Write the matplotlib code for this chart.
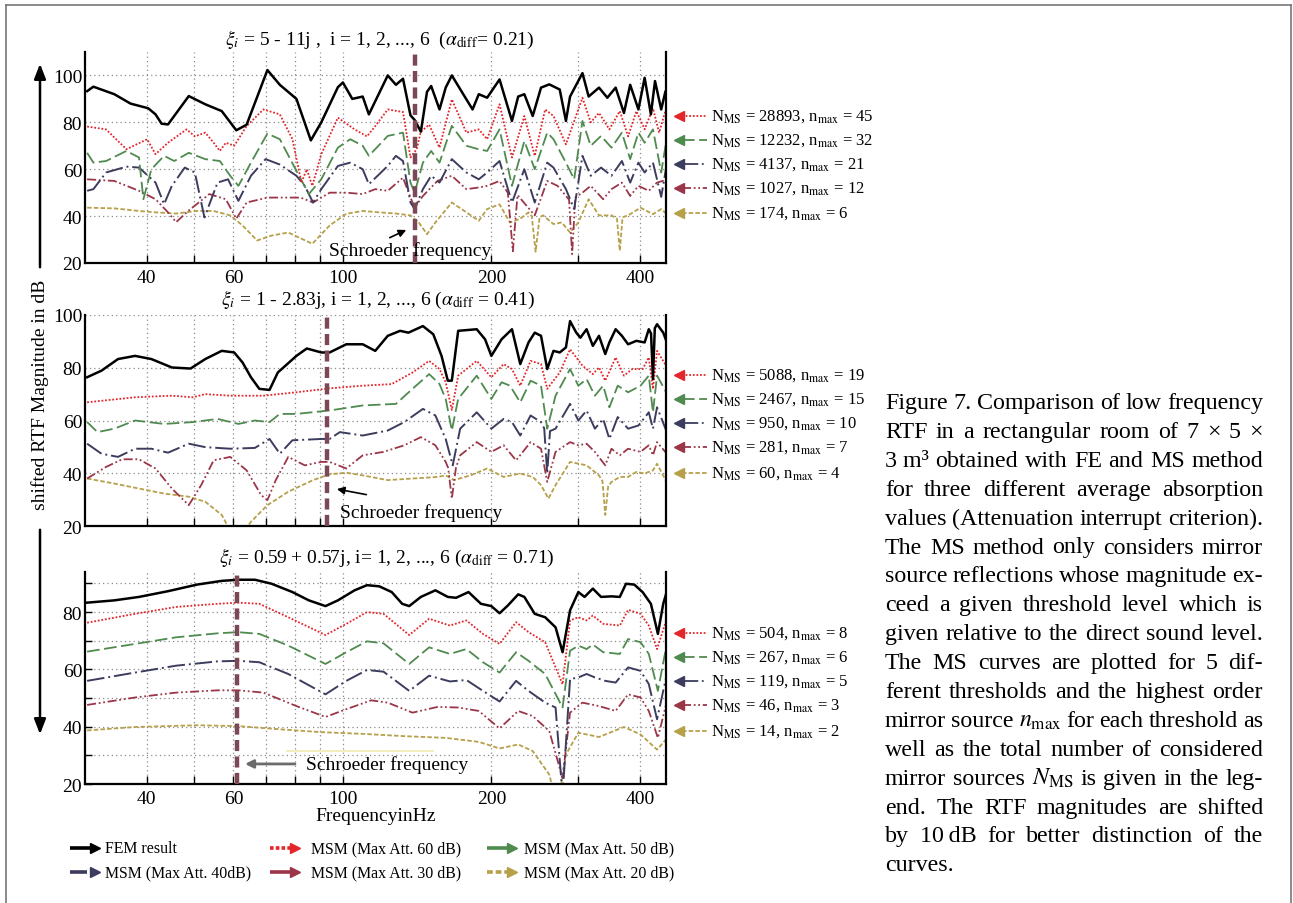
import matplotlib
matplotlib.use("Agg")
import matplotlib.pyplot as plt
from matplotlib.lines import Line2D
from matplotlib.patches import FancyArrowPatch
from matplotlib.ticker import FixedLocator, NullFormatter

plt.rcParams['font.family'] = ['Liberation Serif', 'DejaVu Serif']
plt.rcParams['mathtext.fontset'] = 'stix'

# ---------------------------------------------------------------- data
# Panel 1: xi = 5 - 11j (alpha_diff = 0.21)
p1_fem_f = [30.3, 31.2, 34.4, 37.1, 40.3, 41.7, 42.9, 44.2, 48.7, 52.6, 56.8, 60.8, 63.8, 70.3, 74.5, 80.5, 86.1, 90.4, 97.7, 100, 104.5, 109.7, 112.9, 123.3, 128.1, 132.4, 137.1, 139.8, 143.9, 148.1, 151, 157, 161.6, 166.3, 178, 183.2, 188.6, 196.1, 207.8, 220.2, 226.7, 233.3, 242.6, 252.2, 262.1, 275.2, 283.3, 288.8, 306, 315, 330.6, 343.7, 357.3, 371.4, 382.4, 397.4, 409.1, 421.2, 429.4, 442, 450.6]
p1_fem_db = [93.3, 95.2, 92, 88, 86, 83.4, 79.4, 79.1, 91.2, 87.7, 84.8, 76.6, 79, 102.3, 96, 90, 72.3, 80, 95, 97, 90, 91, 83.4, 100, 96, 98.6, 83, 81, 76, 93, 95.5, 85.5, 94.8, 100, 89.8, 85.5, 92, 90.5, 98.3, 80.6, 91, 92, 82.7, 94.8, 96.2, 94, 80.6, 91, 101, 91, 94.8, 90.5, 94.8, 84, 96, 85.5, 99, 83.4, 97.6, 85.5, 93]
p1_60_f = [30.3, 33.1, 36.4, 40.1, 41.7, 44.2, 48.2, 50.1, 52.6, 54.7, 56.3, 57.9, 60.2, 63.8, 69, 74.5, 79, 82.4, 84.5, 86.7, 90.4, 97.7, 105.6, 111.9, 116.3, 123.3, 132.4, 137.1, 141.1, 143.9, 149.6, 157, 166.3, 178, 188.6, 196.1, 207.8, 220.2, 233.3, 244.9, 257.1, 267.3, 283.3, 306, 318.1, 330.6, 347, 364.3, 378.7, 393.6, 409.1, 425.3, 437.7, 450.6]
p1_60_db = [78.2, 77, 68.5, 72.8, 66.4, 71.3, 77, 74, 75.6, 71.3, 67.8, 71.3, 70, 78.4, 85.5, 83.4, 72.9, 54.3, 60, 52.9, 66.4, 82, 77, 74, 78.4, 85.5, 84.4, 65, 68.5, 76, 79, 69.2, 89.8, 75.6, 77, 72.8, 87.7, 65, 82.7, 65.7, 85.5, 82.7, 70.6, 90.5, 80, 84, 77, 84.8, 74, 84.8, 77, 86, 75.6, 84.8]
p1_50_f = [30.3, 31.2, 33.1, 36.4, 38.6, 39.4, 40.9, 43.4, 45.5, 48.7, 52.6, 56.3, 59.1, 61.4, 65.1, 70.3, 74.5, 80.5, 85.3, 90.4, 97.7, 103.5, 109.7, 112.9, 123.3, 132.4, 137.1, 139.8, 145.3, 151, 157, 166.3, 178, 188.6, 196.1, 207.8, 220.2, 233.3, 244.9, 259.6, 267.3, 283.3, 294.4, 306, 318.1, 333.8, 350.4, 367.9, 382.4, 397.4, 409.1, 425.3, 442, 456.6]
p1_50_db = [67, 62.8, 63.5, 67.8, 65, 47.2, 60, 65.7, 63.5, 67, 64.3, 63.5, 57.2, 52.9, 62.8, 75.2, 72.8, 59.3, 49.4, 55.7, 69.2, 72.8, 70, 65.7, 74.2, 75.6, 54.3, 50, 62.8, 67.8, 62.8, 78.5, 70, 68.5, 67.8, 77, 52.9, 72, 60, 75.6, 72.8, 62.8, 55.7, 80.6, 70, 74.2, 69.2, 75.6, 64.3, 75.6, 71.3, 77, 58.6, 77]
p1_40_f = [30.3, 31.2, 33.1, 36.4, 38.6, 41.7, 43.4, 45, 47.8, 50.1, 52.4, 55.7, 58.5, 61.4, 65.1, 69.7, 74.5, 80.5, 83.7, 87, 90.4, 97.7, 103.5, 109.7, 112.9, 123.3, 128.1, 132.4, 137.1, 139.8, 145.3, 151, 157, 166.3, 178, 188.6, 196.1, 207.8, 220.2, 233.3, 244.9, 259.6, 267.3, 283.3, 294.4, 306, 318.1, 333.8, 350.4, 367.9, 382.4, 397.4, 409.1, 425.3, 442, 456.6]
p1_40_db = [50.8, 51.5, 58.6, 61.1, 60.7, 54.3, 45.1, 52.9, 60.7, 58.6, 39.4, 54.3, 55.7, 46.5, 57.2, 64.3, 62, 57.2, 52.9, 45.8, 51.5, 61.4, 62.8, 60, 53.6, 61.4, 65.7, 63.5, 45.8, 43, 51.5, 57.2, 54.3, 64.3, 58.6, 55.7, 58.6, 63.5, 45.8, 60, 45.8, 62.8, 60.7, 51.5, 43, 65.7, 57.2, 60.7, 57.2, 63.5, 54.3, 62.8, 58.6, 62.8, 48.2, 65.7]
p1_30_f = [30.3, 34.4, 38.6, 41.7, 44.2, 45.9, 48.7, 53.6, 57.9, 60.8, 63.8, 70.3, 77.5, 82.1, 87, 94, 101.6, 109.7, 116.3, 123.3, 132.4, 137.1, 139.8, 145.3, 155.5, 166.3, 178, 188.6, 196.1, 207.8, 216, 221.1, 226, 244.9, 259.6, 272.5, 283.3, 287.5, 291.6, 296, 306, 318.1, 337.1, 350.4, 367.9, 382.4, 397.4, 417.1, 433.5, 456.6]
p1_30_db = [55.7, 55, 50.8, 47.2, 41.6, 37.4, 42.4, 49.4, 47.2, 38.9, 45.8, 47.9, 47.9, 47.9, 45.8, 50, 50, 49.4, 51.5, 50.8, 56.4, 47.9, 43.6, 48.6, 55, 57.2, 51.5, 52.2, 52.9, 55, 50, 25, 49, 40.3, 55, 52.9, 48.6, 47, 23.8, 48, 50, 52.9, 47.2, 51.5, 54.3, 48.6, 52.9, 50.8, 54.3, 55.7]
p1_20_f = [30.3, 34.4, 38.6, 41.7, 45.9, 50.6, 54.7, 59.1, 62.6, 67, 71.7, 77.5, 86.7, 94, 101.6, 109.7, 118.5, 128.1, 137.1, 142.5, 148.1, 154, 166.3, 178, 188.6, 196.1, 207.8, 218.1, 228.9, 237.9, 241.5, 245.9, 250.5, 254.6, 267.3, 277.8, 288.8, 300.2, 315, 330.6, 350.4, 359.5, 364.3, 369, 378.7, 401.3, 425.3, 442, 456.6]
p1_20_db = [43.6, 43.3, 42.2, 41.6, 41.1, 42.2, 42.2, 40.3, 36, 29.6, 31.7, 33, 28.2, 36, 41, 42.2, 41.6, 41.1, 40.3, 37.3, 32.3, 37.3, 45.8, 41.6, 38, 43, 45, 37.3, 38.9, 41.6, 40, 24.8, 39.5, 40.3, 36.6, 37.3, 33, 37.3, 47.2, 40.3, 40.3, 39, 25.2, 39.5, 40.3, 43.6, 40.8, 43, 40.3]

# Panel 2: xi = 1 - 2.83j (alpha_diff = 0.41)
p2_fem_f = [30.3, 32.4, 35, 37.9, 40.9, 45, 49.1, 52.6, 56.8, 60.2, 62.6, 65.1, 67.7, 71, 73.8, 80.5, 84.5, 90.4, 94, 101.6, 109.7, 116.3, 123.3, 130.6, 135.8, 145.3, 152.5, 158.5, 163.2, 166.3, 171.3, 186.8, 194.2, 200, 209.8, 220.2, 228.9, 237.9, 244.9, 252.2, 259.6, 267.3, 275.2, 283.3, 288.8, 297.3, 303.1, 312, 321.2, 330.6, 340.4, 347, 357.3, 367.9, 378.7, 393.6, 409.1, 417.1, 421.5, 425.3, 429, 433.5, 446.2, 456.6]
p2_fem_db = [76.4, 78.9, 83.3, 84.5, 83.3, 80.1, 79.7, 83.3, 86.4, 85.8, 82, 76.4, 72, 71.6, 78.2, 84.5, 87.3, 85.8, 85.8, 88.9, 88.9, 86.4, 92.1, 94, 93.3, 95.8, 92.7, 84.5, 75.1, 75.1, 94, 94.6, 90.8, 84.5, 90.8, 94.6, 81.4, 89.6, 93.3, 92.1, 79.5, 86.4, 85.8, 87.7, 97.7, 93.3, 91.4, 94.6, 88.3, 92.1, 85.2, 89.6, 94.6, 92.1, 88.9, 90.2, 89.6, 94.6, 93, 75.7, 95, 96.5, 93.3, 88.3]
p2_60_f = [30.3, 37.9, 45, 49.6, 52.6, 59.1, 69, 80.5, 94, 109.7, 125.6, 138.4, 149.6, 157, 161.6, 166.3, 171.3, 186.8, 200, 211.8, 220.2, 228.9, 240.2, 252.2, 259.6, 275.2, 288.8, 306, 321.2, 330.6, 340.4, 357.3, 371.4, 386.1, 405.2, 417.1, 425.3, 433.5, 456.6]
p2_60_db = [66.9, 68.8, 69.4, 68.8, 70, 69.4, 69.4, 70.7, 72.2, 73.2, 73.8, 78.2, 82.6, 79.5, 74.5, 64, 77, 82.6, 76.4, 81.4, 79.5, 73.2, 82.6, 81.4, 72, 78.2, 87, 80.8, 77.6, 80.1, 75.1, 83.9, 77, 79.5, 79.5, 83.9, 72, 86.4, 79.5]
p2_50_f = [30.3, 31.8, 34.4, 37.9, 43.4, 49.6, 55.7, 61.4, 66.3, 71, 74.5, 80.5, 94, 109.7, 128.1, 138.4, 149.6, 157, 161.6, 166.3, 171.3, 186.8, 200, 209.8, 218.1, 228.9, 240.2, 252.2, 259.6, 269.9, 288.8, 300.2, 312, 324.3, 337.1, 347, 360.8, 378.7, 401.3, 417.1, 425.3, 433.5, 456.6]
p2_50_db = [59.4, 55.6, 56.9, 60, 58.7, 59.4, 60.6, 58.7, 60, 59.4, 62.5, 62.5, 63.8, 65.7, 66.3, 72, 77.6, 73.8, 68.2, 56.2, 68.2, 77, 68.2, 74.5, 73.2, 66.9, 75.1, 73.2, 56.9, 69.4, 79.5, 73.2, 75.7, 69.4, 73.2, 65, 73.2, 70.7, 73.2, 77, 63.1, 77, 69.4]
p2_40_f = [30.3, 32.4, 35, 37.9, 40.9, 44.2, 48.7, 52.6, 59.1, 66.3, 71, 74.5, 79, 90.4, 94, 98.6, 109.7, 123.3, 133.2, 145.3, 154, 161.6, 167, 172.9, 186.8, 200, 211.8, 220.2, 228.9, 240.2, 252.2, 256, 259.6, 263, 269.9, 288.8, 300.2, 312, 324.3, 337.1, 347, 360.8, 378.7, 397.4, 417.1, 425.3, 433.5, 456.6]
p2_40_db = [51.2, 47.4, 46.2, 49.3, 49.3, 47.8, 51.2, 49.9, 49.3, 49.6, 53, 47.4, 52.5, 53, 53, 55.6, 54.3, 56.2, 59.4, 64.4, 61.9, 53, 43, 56.9, 63.1, 56.9, 60.6, 59.4, 54.3, 61.9, 59.4, 57, 39.9, 56, 56.9, 66.3, 60, 63.8, 56.9, 60.6, 53, 61.3, 56.9, 58.1, 63.1, 56.9, 65, 54.3]
p2_30_f = [30.3, 33.1, 35.7, 38.6, 41.7, 45, 48.7, 51.6, 54.7, 59.1, 63.8, 68.3, 70.3, 73.1, 77.5, 83.7, 90.4, 94, 101.6, 109.7, 120.9, 133.2, 143.9, 154, 161.6, 163.5, 166.3, 169.5, 172.9, 186.8, 200, 211.8, 224.5, 240.2, 252.2, 259.6, 269.9, 288.8, 300.2, 312, 324.3, 340.4, 350.4, 364.3, 378.7, 401.3, 417.1, 425.3, 433.5, 456.6]
p2_30_db = [38, 42.4, 45.3, 45.3, 41.8, 34.2, 27.9, 35.5, 44.9, 46.2, 41.1, 31.7, 29.8, 37.4, 46.2, 43, 44.3, 44.3, 41.8, 46.8, 48.1, 50.6, 53.7, 50.6, 44.3, 42, 30.4, 42, 46.8, 51.8, 48.1, 50.6, 44.9, 51.8, 49.3, 36.7, 48.1, 51.8, 50.6, 51.2, 48.1, 43, 49.3, 46.8, 49.3, 48.1, 50.6, 46.8, 51.8, 46.8]
p2_20_f = [30.3, 34.4, 38.6, 43.4, 48.7, 52.6, 56.8, 60.8, 65.1, 70.3, 77.5, 87, 94, 101.6, 109.7, 123.3, 138.4, 155.5, 161.6, 168, 181.5, 196.1, 211.8, 228.9, 242.6, 252.2, 261.1, 269.9, 288.8, 312, 330.6, 336, 340.4, 345, 350.4, 364.3, 378.7, 393.6, 409.1, 425.3, 433.5, 456.6]
p2_20_db = [38, 36.1, 34.2, 32.3, 31.1, 29.2, 24.2, 14, 21.6, 27.9, 33, 37.4, 39.6, 40.2, 39.2, 37.4, 38, 38.6, 39.2, 37.4, 39.2, 41.8, 38.6, 39.9, 38.6, 35.5, 30.4, 35.5, 44.3, 43, 39.2, 37, 24.2, 35, 36.7, 38.6, 38.6, 40.5, 39.9, 41.1, 43.6, 35.5]

# Panel 3: xi = 0.59 + 0.57j (alpha_diff = 0.71)
p3_fem_f = [30.3, 34.4, 38.6, 44.2, 50.6, 56.8, 61.4, 66.3, 71.7, 79, 85.3, 92.2, 97.7, 105.6, 111.9, 118.5, 125.6, 131.9, 136.3, 143.9, 154, 163.2, 169.6, 179.8, 190.5, 200, 207.8, 216, 226.7, 233.3, 244.9, 257.1, 269.9, 278.9, 288.8, 300.2, 309, 321.2, 333.8, 350.4, 364.3, 375, 389.8, 405.2, 421.2, 435.2, 446.2, 452.3]
p3_fem_db = [83.3, 84.1, 85.3, 87.3, 89.6, 90.9, 91.3, 91.3, 89.9, 87, 84.1, 82.1, 84.1, 87.6, 89.4, 89, 87, 82.9, 82.1, 85.3, 87.6, 85.3, 85, 87, 82.9, 82.1, 79.6, 82.3, 86.2, 85.3, 79.4, 78.2, 74.7, 66, 80.6, 87, 85.3, 88.2, 85.3, 85.5, 85.3, 89.9, 89.6, 87, 82.9, 72.4, 82.9, 86.4]
p3_60_f = [30.3, 37.9, 45.9, 55.7, 61.4, 67.7, 77.5, 92.2, 101.6, 111.9, 120.9, 136.3, 149.6, 164.8, 178, 192.3, 207.8, 224.5, 237.9, 257.1, 278.9, 288.8, 300.2, 312, 321.2, 337.1, 364.3, 378.7, 401.3, 417.1, 433.5, 452.3]
p3_60_db = [76.3, 79.4, 81.8, 82.9, 83.3, 82.9, 78.2, 72, 75.9, 80, 79.4, 72, 77.7, 75.3, 77.1, 72.4, 68.9, 76.5, 73, 69.5, 54.8, 77.1, 78.2, 77.1, 78.8, 75.9, 75.3, 80.8, 79.4, 75.3, 67.1, 77.1]
p3_50_f = [30.3, 37.9, 45.9, 55.7, 61.4, 67.7, 77.5, 92.2, 101.6, 111.9, 120.9, 136.3, 149.6, 164.8, 178, 192.3, 207.8, 224.5, 237.9, 257.1, 278.9, 288.8, 300.2, 312, 321.2, 337.1, 364.3, 378.7, 401.3, 417.1, 435.2, 452.3]
p3_50_db = [66.2, 68.9, 71.2, 72.6, 73, 72.4, 68.3, 61.9, 66, 69.8, 69.1, 61.9, 67.7, 65.4, 67.1, 62.5, 58.9, 66, 63, 58.4, 46.7, 66.5, 68.3, 67.1, 68.7, 66, 65.4, 70.6, 69.5, 65.4, 52.5, 67.7]
p3_40_f = [30.3, 37.9, 45.9, 55.7, 61.4, 67.7, 77.5, 92.2, 101.6, 111.9, 120.9, 136.3, 149.6, 164.8, 178, 192.3, 207.8, 224.5, 237.9, 257.1, 269.9, 278.9, 288.8, 300.2, 312, 324.3, 340.4, 357.3, 378.7, 401.3, 417.1, 433.5, 452.3]
p3_40_db = [56, 58.9, 61.3, 62.8, 63, 62.5, 58.4, 51.3, 56, 59.8, 59.2, 52.5, 57.8, 55.8, 56.3, 52.5, 48.8, 56, 52.5, 48.4, 46.7, 16, 56.6, 57.2, 58.4, 57.2, 56, 55.4, 60.7, 59.5, 54.9, 42.6, 57.2]
p3_30_f = [30.3, 37.9, 45.9, 55.7, 61.4, 69, 80.5, 92.2, 101.6, 114.1, 123.3, 138.4, 155.5, 171.3, 188.6, 207.8, 226.7, 242.6, 262.1, 278.9, 288.8, 306, 330.6, 357.3, 378.7, 401.3, 417.1, 435.2, 452.3]
p3_30_db = [47.6, 50.2, 51.9, 52.7, 52.7, 51.9, 47.2, 43.4, 46.1, 49.2, 48.4, 44.9, 46.9, 46.7, 45.5, 39.4, 45.5, 43.7, 38.5, 22, 44.9, 48.4, 47.2, 45.5, 51.3, 50.2, 45.5, 36.1, 47.8]
p3_20_f = [30.3, 37.9, 50.6, 61.4, 74.5, 90.4, 109.7, 133.2, 161.6, 188.6, 207.8, 226.7, 242.6, 262.1, 272.5, 283.3, 300.2, 330.6, 371.4, 401.3, 433.5, 452.3]
p3_20_db = [38.7, 39.9, 40.5, 40.2, 39.1, 38.1, 37.5, 36.7, 36.1, 34.7, 32.4, 33.8, 31.5, 23.3, 12, 30.3, 37.9, 36.4, 39.9, 37.3, 32, 35.6]

# Legend texts: number of mirror sources and highest order per threshold
p1_n_ms = [28893, 12232, 4137, 1027, 174]
p1_n_max = [45, 32, 21, 12, 6]
p2_n_ms = [5088, 2467, 950, 281, 60]
p2_n_max = [19, 15, 10, 7, 4]
p3_n_ms = [504, 267, 119, 46, 14]
p3_n_max = [8, 6, 5, 3, 2]

schroeder_f = [140, 93, 61]
series_names = ["FEM result", "MSM (Max Att. 60 dB)", "MSM (Max Att. 50 dB)",
                "MSM (Max Att. 40dB)", "MSM (Max Att. 30 dB)", "MSM (Max Att. 20 dB)"]
x_major = [40, 60, 100, 200, 400]
x_minor = [50, 70, 80, 90, 300]

titles = [
    r"$\xi_{i}$ = 5 - 11j ,  i = 1, 2, ..., 6  ($\alpha_{\mathrm{diff}}$= 0.21)",
    r"$\xi_{i}$ = 1 - 2.83j, i = 1, 2, ..., 6 ($\alpha_{\mathrm{diff}}$ = 0.41)",
    r"$\xi_{i}$ = 0.59 + 0.57j, i= 1, 2, ..., 6 ($\alpha_{\mathrm{diff}}$ = 0.71)",
]

caption = [
    "Figure 7. Comparison of low frequency",
    "RTF in a rectangular room of 7 \u00d7 5 \u00d7",
    "3\u00a0m\u00b3 obtained with FE and MS method",
    "for three different average absorption",
    "values (Attenuation interrupt criterion).",
    "The MS method only considers mirror",
    "source reflections whose magnitude ex-",
    "ceed a given threshold level which is",
    "given relative to the direct sound level.",
    "The MS curves are plotted for 5 dif-",
    "ferent thresholds and the highest order",
    r"mirror source $n_{\mathrm{max}}$ for each threshold as",
    "well as the total number of considered",
    r"mirror sources $N_{\mathrm{MS}}$ is given in the leg-",
    "end. The RTF magnitudes are shifted",
    "by 10\u2009dB for better distinction of the",
    "curves.",
]

# ---------------------------------------------------------------- styles
STYLES = [
    dict(color="black", lw=1.8, ls="-"),
    dict(color="#e3262b", lw=1.3, ls=(0, (1, 1))),
    dict(color="#4f8a4f", lw=1.3, ls=(0, (7, 2.5))),
    dict(color="#3c3c5e", lw=1.4, ls=(0, (9, 2, 1, 2))),
    dict(color="#9b3648", lw=1.3, ls=(0, (5, 1.5, 1, 1.5, 1, 1.5))),
    dict(color="#b6a04a", lw=1.3, ls=(0, (2.5, 1.2))),
]
GRID = dict(color="#8a8a8a", lw=0.9, ls=(0, (1, 2.5)), zorder=0.5)
SCHROEDER = dict(color="#7d4856", lw=3.2, ls=(0, (2.5, 1.2)), zorder=4)

W, H = 1293, 904
fig = plt.figure(figsize=(W / 100, H / 100), dpi=100)


def fx(px):
    return px / W


def fy(py):
    return 1 - py / H


def panel(top, bottom, ylim, ymajor, ygrid, yminor, curves, n_ms, n_max, fs, ann_y):
    ax = fig.add_axes([fx(85), fy(bottom), fx(666) - fx(85), (bottom - top) / H])
    ax.set_xscale("log")
    ax.set_xlim(30, 452)
    ax.set_ylim(*ylim)
    ax.xaxis.set_major_locator(FixedLocator(x_major))
    ax.xaxis.set_minor_locator(FixedLocator(x_minor))
    ax.set_xticks(x_major, labels=[str(v) for v in x_major])
    ax.xaxis.set_minor_formatter(NullFormatter())
    ax.set_yticks(ymajor, labels=[str(v) for v in ymajor])
    if yminor:
        ax.yaxis.set_minor_locator(FixedLocator(yminor))
        ax.tick_params(axis="y", which="both", direction="in", length=5, width=1)
    else:
        ax.tick_params(axis="y", which="both", length=0)
    ax.tick_params(axis="y", labelsize=14, pad=2)
    ax.tick_params(axis="x", which="both", direction="in", length=6, width=1,
                   labelsize=14, pad=4)
    ax.spines["top"].set_visible(False)
    for s in ("left", "bottom", "right"):
        ax.spines[s].set_linewidth(1.6)
    for f in x_major + x_minor:
        ax.axvline(f, **GRID)
    for y in ygrid:
        ax.axhline(y, **GRID)
    for (f, db), st in reversed(list(zip(curves, STYLES))):
        ax.plot(f, db, color=st["color"], lw=st["lw"], ls=st["ls"],
                zorder=3 if st["color"] == "black" else 2)
    ax.axvline(fs, **SCHROEDER)

    # per-threshold annotations to the right of the axes
    for k, (nm, nx) in enumerate(zip(n_ms, n_max)):
        st = STYLES[k + 1]
        y = fy(ann_y[k])
        fig.add_artist(Line2D([fx(682), fx(707)], [y, y], color=st["color"],
                              lw=1.3, ls=st["ls"], transform=fig.transFigure))
        fig.add_artist(Line2D([fx(679)], [y], marker="<", ms=6.5, color=st["color"],
                              mec=st["color"], transform=fig.transFigure))
        fig.text(fx(711), y, r"N$_{\mathrm{MS}}$ = %d, n$_{\mathrm{max}}$ = %d" % (nm, nx),
                 fontsize=12, va="center", ha="left")
    return ax


ax1 = panel(53, 264, (20, 110), [20, 40, 60, 80, 100], [40, 60, 80, 100], None,
            [(p1_fem_f, p1_fem_db), (p1_60_f, p1_60_db), (p1_50_f, p1_50_db),
             (p1_40_f, p1_40_db), (p1_30_f, p1_30_db), (p1_20_f, p1_20_db)],
            p1_n_ms, p1_n_max, schroeder_f[0], [117, 141, 165, 189, 214])
ax2 = panel(316, 527, (20, 100), [20, 40, 60, 80, 100], [40, 60, 80, 100], None,
            [(p2_fem_f, p2_fem_db), (p2_60_f, p2_60_db), (p2_50_f, p2_50_db),
             (p2_40_f, p2_40_db), (p2_30_f, p2_30_db), (p2_20_f, p2_20_db)],
            p2_n_ms, p2_n_max, schroeder_f[1], [376, 400, 424, 448, 474])
ax3 = panel(573, 785, (20, 94), [20, 40, 60, 80], [30, 40, 50, 60, 70, 80, 90],
            [30, 50, 70, 90],
            [(p3_fem_f, p3_fem_db), (p3_60_f, p3_60_db), (p3_50_f, p3_50_db),
             (p3_40_f, p3_40_db), (p3_30_f, p3_30_db), (p3_20_f, p3_20_db)],
            p3_n_ms, p3_n_max, schroeder_f[2], [634, 658, 682, 706, 732])
# the middle panel's frequency labels sit under the lower panel's heading
ax2.tick_params(axis="x", labelbottom=False)

# Schroeder frequency labels
ax1.text(137, 25.5, "Schroeder frequency", ha="center", va="center", fontsize=14, zorder=6)
ax1.annotate("", xy=(136, 34.6), xytext=(123, 30.3),
             arrowprops=dict(arrowstyle="-|>", color="black", lw=1.2, mutation_scale=11))
ax2.text(144, 25.4, "Schroeder frequency", ha="center", va="center", fontsize=14, zorder=6)
ax2.annotate("", xy=(96, 34.2), xytext=(113, 31.7),
             arrowprops=dict(arrowstyle="-|>", color="black", lw=1.2, mutation_scale=11))
ax3.plot([77, 152], [31.6, 31.6], color="#f4e9b0", lw=1.2, zorder=1)
ax3.text(84, 27, "Schroeder frequency", ha="left", va="center", fontsize=14, zorder=6)
ax3.annotate("", xy=(62.5, 27), xytext=(81, 27),
             arrowprops=dict(arrowstyle="-|>", color="#6b6b6b", lw=2, mutation_scale=12))
ax3.set_xlabel("FrequencyinHz", fontsize=14, labelpad=0)

# panel titles
for (cx, cy), t in zip([(380, 40), (378, 300), (387, 558)], titles):
    fig.text(fx(cx), fy(cy), t, fontsize=14, ha="center", va="center", zorder=6)

# shared y label with arrows
fig.text(fx(40), fy(395), "shifted RTF Magnitude in dB", rotation=90, fontsize=14,
         ha="center", va="center")
for a, b in [((40, 271), (40, 62)), ((40, 528), (40, 738))]:
    fig.add_artist(FancyArrowPatch((fx(a[0]), fy(a[1])), (fx(b[0]), fy(b[1])),
                                   transform=fig.transFigure,
                                   arrowstyle="-|>,head_length=0.9,head_width=0.35",
                                   mutation_scale=10, lw=1.8, color="black"))

# bottom legend
leg_pos = [(70, 849), (270, 849), (487, 849), (70, 873), (270, 873), (487, 873)]
leg_ls = ["-", (0, (1, 0.6)), "-", "-", "-", (0, (1.6, 0.8))]
for k, ((x0, y0), name) in enumerate(zip(leg_pos, series_names)):
    col = STYLES[k]["color"]
    y = fy(y0)
    x_end = x0 + (17 if k == 3 else 22)
    fig.add_artist(Line2D([fx(x0), fx(x_end)], [y, y], color=col, lw=2.6, ls=leg_ls[k],
                          solid_capstyle="butt", transform=fig.transFigure))
    fig.add_artist(Line2D([fx(x0 + 25)], [y], marker=">", ms=6.5, color=col,
                          mec=col, transform=fig.transFigure))
    tx = 105 if k in (0, 3) else (311 if k in (1, 4) else 524)
    fig.text(fx(tx), y, name, fontsize=11.4, va="center", ha="left")

# caption, justified between two margins
renderer = fig.canvas.get_renderer()
cap_left, cap_right = 885, 1263
for i, line in enumerate(caption):
    y = fy(409 + i * 28.9)
    words = line.split(" ")
    texts = [fig.text(0, y, w, fontsize=17.3, va="baseline", ha="left") for w in words]
    widths = [t.get_window_extent(renderer).width for t in texts]
    if i == len(caption) - 1 or len(words) == 1:
        gap = 6
    else:
        gap = (cap_right - cap_left - sum(widths)) / (len(words) - 1)
    x = cap_left
    for t, w in zip(texts, widths):
        t.set_x(fx(x))
        x += w + gap

# outer frame
for xs, ys in [([6, 6], [904, 6]), ([6, 1291], [6, 6]), ([1291, 1291], [6, 904])]:
    fig.add_artist(Line2D([fx(v) for v in xs], [fy(v) for v in ys], color="#777777",
                          lw=1.2, transform=fig.transFigure))

fig.savefig("out.png", dpi=100)
